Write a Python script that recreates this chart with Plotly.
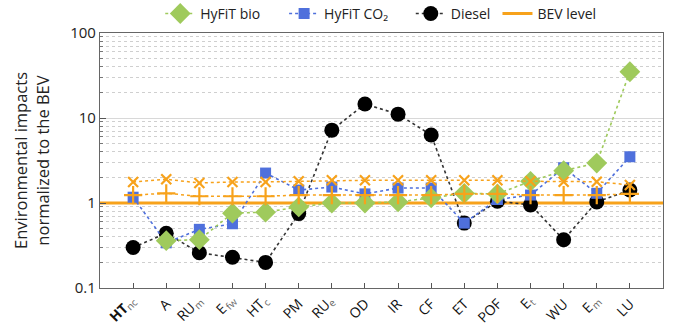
import plotly.graph_objects as go

# category labels: main part and subscript part (plain text)
cat_main = ["HT", "A", "RU", "E", "HT", "PM", "RU", "OD", "IR", "CF", "ET", "POF", "E", "WU", "E", "LU"]
cat_sub = ["nc", "", "m", "fw", "c", "", "e", "", "", "", "", "", "t", "", "m", ""]
cat_bold = [True] + [False] * 15

hyfit_bio = [None, 0.36, 0.37, 0.76, 0.78, 0.9, 1.0, 1.0, 1.03, 1.15, 1.3, 1.28, 1.8, 2.4, 2.95, 35]
hyfit_co2 = [1.17, 0.34, 0.49, 0.57, 2.25, 1.42, 1.54, 1.28, 1.5, 1.5, 0.58, 1.1, 1.24, 2.6, 1.3, 3.5]
diesel = [0.30, 0.44, 0.26, 0.23, 0.20, 0.75, 7.2, 14.6, 11.1, 6.3, 0.58, 1.05, 0.95, 0.37, 1.03, 1.42]
bev_high = [1.77, 1.9, 1.72, 1.77, 1.77, 1.8, 1.85, 1.85, 1.85, 1.85, 1.85, 1.85, 1.8, 1.78, 1.78, 1.63]
bev_low = [1.24, 1.3, 1.2, 1.2, 1.2, 1.24, 1.24, 1.24, 1.24, 1.24, 1.28, 1.28, 1.24, 1.24, 1.24, 1.28]
bev_level = 1
y_ticks = [0.1, 1, 10, 100]
y_ticklabels = ["0.1", "1", "10", "100"]

GREEN = "#9fca5c"
BLUE = "#4f70dc"
ORANGE = "#f7a21b"

xs = list(range(len(cat_main)))
fig = go.Figure()

fig.add_trace(go.Scatter(x=[-1, 16], y=[bev_level, bev_level], mode="lines", name="BEV level",
                         line=dict(color=ORANGE, width=3), legend="legend4"))
fig.add_trace(go.Scatter(x=xs, y=diesel, mode="lines+markers", name="Diesel",
                         line=dict(color="#333333", width=1.6, dash="dot"),
                         marker=dict(symbol="circle", size=15, color="black"), legend="legend3"))
fig.add_trace(go.Scatter(x=xs, y=hyfit_co2, mode="lines+markers", name="HyFiT CO\u2082",
                         line=dict(color=BLUE, width=1.6, dash="dot"),
                         marker=dict(symbol="square", size=11, color=BLUE), legend="legend2"))
fig.add_trace(go.Scatter(x=xs, y=hyfit_bio, mode="lines+markers", name="HyFiT bio",
                         line=dict(color=GREEN, width=1.6, dash="dot"),
                         marker=dict(symbol="diamond", size=16, color=GREEN), legend="legend"))
fig.add_trace(go.Scatter(x=xs, y=bev_high, mode="lines+markers", showlegend=False,
                         line=dict(color=ORANGE, width=1.5, dash="dot"),
                         marker=dict(symbol="x-thin", size=10, line=dict(color=ORANGE, width=2.2))))
fig.add_trace(go.Scatter(x=xs, y=bev_low, mode="lines+markers", showlegend=False,
                         line=dict(color=ORANGE, width=1.5, dash="dot"),
                         marker=dict(symbol="cross-thin", size=13, line=dict(color=ORANGE, width=2.2))))

leg_common = dict(orientation="h", y=1.075, xanchor="left", yanchor="middle",
                  font=dict(size=14, color="#222222"), bgcolor="rgba(0,0,0,0)")
fig.update_layout(
    width=699, height=330,
    margin=dict(l=100, r=36, t=33, b=42, autoexpand=False),
    paper_bgcolor="white", plot_bgcolor="white",
    font=dict(family="Open Sans", size=13, color="#333333"),
    legend=dict(x=0.107, **leg_common),
    legend2=dict(x=0.327, **leg_common),
    legend3=dict(x=0.552, **leg_common),
    legend4=dict(x=0.706, **leg_common),
)

minor_vals = [d * m for d in (0.1, 1, 10) for m in range(2, 10)]
fig.update_xaxes(range=[-1, 16], tickmode="array", tickvals=xs, showticklabels=False,
                 ticks="inside", ticklen=5, tickcolor="#555555",
                 showline=True, linecolor="#666666", linewidth=1.2, mirror=True,
                 showgrid=False, zeroline=False)
fig.update_yaxes(type="log", range=[-1, 2], tickmode="array", tickvals=y_ticks, ticktext=y_ticklabels,
                 ticks="inside", ticklen=6, tickcolor="#555555",
                 showline=True, linecolor="#666666", linewidth=1.2, mirror=True,
                 showgrid=True, gridcolor="#d8d8d8", gridwidth=1, zeroline=False,
                 minor=dict(tickmode="array", tickvals=minor_vals, ticks="inside", ticklen=3,
                            tickcolor="#777777", showgrid=True, gridcolor="#cfcfcf",
                            griddash="dot", gridwidth=1),
                 title=dict(text="Environmental impacts<br>normalized to the BEV",
                            font=dict(size=16.5, color="#222222"), standoff=16),
                 tickfont=dict(size=15, color="#222222"))

# rotated category labels (plain text annotations; subscripts as separate smaller texts)
EM = {"A": .633, "C": .632, "D": .713, "E": .556, "F": .517, "H": .738, "I": .279, "L": .519,
      "M": .907, "O": .779, "P": .604, "R": .631, "T": .556, "U": .728, "W": .925,
      "c": .481, "e": .561, "f": .344, "m": .928, "n": .612, "t": .353, "w": .801}

def text_w(s, size, bold=False):
    return sum(EM.get(ch, 0.6) for ch in s) * size * (1.06 if bold else 1.0)

C = 0.7071
MAIN_SIZE, SUB_SIZE, SUB_DROP = 14, 10, 4
for xi, mt, st, bd in zip(xs, cat_main, cat_sub, cat_bold):
    lm = text_w(mt, MAIN_SIZE, bd)
    if st:
        ls = text_w(st, SUB_SIZE) + 1
        ex, ey = 3, 12
        scx, scy = ex - C * ls / 2, ey + C * ls / 2
        mex, mey = ex - C * ls - C * SUB_DROP, ey + C * ls - C * SUB_DROP
        fig.add_annotation(x=xi, y=0, xref="x", yref="paper", text=st, showarrow=False,
                           textangle=-45, xanchor="center", yanchor="middle",
                           xshift=scx, yshift=-scy, font=dict(size=SUB_SIZE, color="#666666"))
    else:
        mex, mey = 1, 13
    mcx, mcy = mex - C * lm / 2, mey + C * lm / 2
    fig.add_annotation(x=xi, y=0, xref="x", yref="paper", text=mt, showarrow=False,
                       textangle=-45, xanchor="center", yanchor="middle",
                       xshift=mcx, yshift=-mcy,
                       font=dict(size=MAIN_SIZE, color="#111111", weight="bold" if bd else "normal"))

fig.write_html("out.html")
